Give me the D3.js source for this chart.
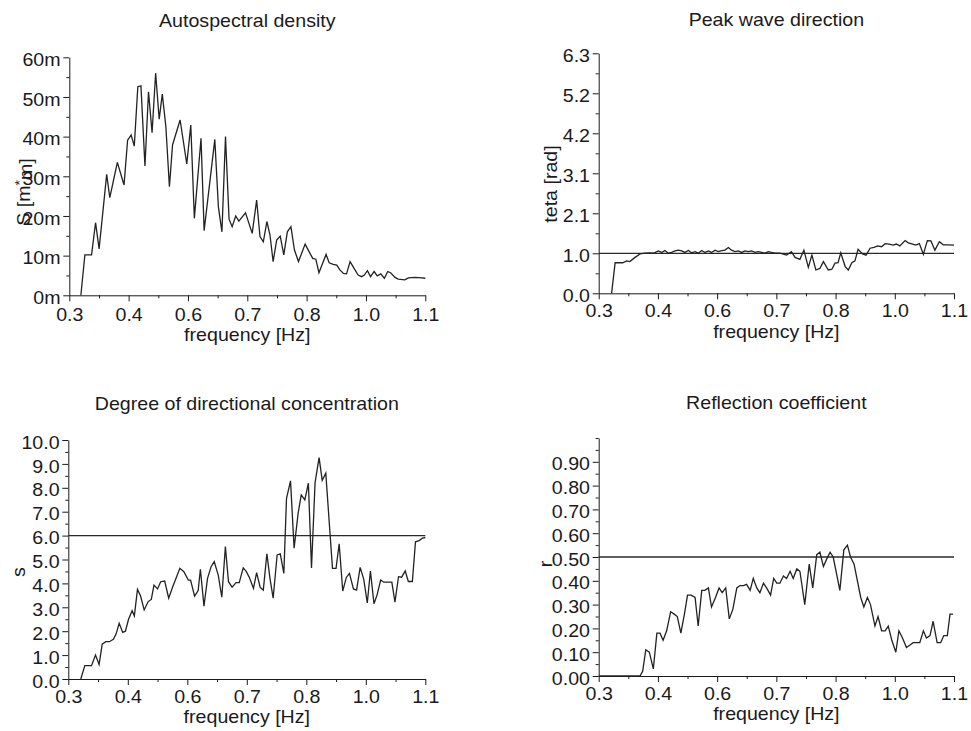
<!DOCTYPE html>
<html><head><meta charset="utf-8">
<script src="https://cdn.jsdelivr.net/npm/d3@7"></script>
<style>
html,body{margin:0;padding:0;background:#fff;}
svg text{font-family:"Liberation Sans",Arial,Helvetica,sans-serif;fill:#1a1a1a;}
</style></head>
<body><svg id="c" width="971" height="731"></svg>
<script>
// ---------- data ----------
const xTickValues = [0.3, 0.43333, 0.56667, 0.7, 0.83333, 0.96667, 1.1];
const xTickLabels = ["0.3", "0.4", "0.6", "0.7", "0.8", "1.0", "1.1"];
const xMinorValues = [0.36667, 0.5, 0.63333, 0.76667, 0.9, 1.03333];

// Autospectral density, S [m*m] in milli units
const spectrumFreq = [0.326,0.335,0.350,0.359,0.367,0.384,0.391,0.408,0.423,0.431,0.439,0.446,0.454,0.461,0.470,0.478,0.486,0.494,0.502,0.509,0.517,0.525,0.532,0.549,0.564,0.573,0.581,0.596,0.603,0.627,0.635,0.643,0.651,0.659,0.666,0.674,0.681,0.696,0.711,0.721,0.7285,0.736,0.744,0.751,0.758,0.766,0.774,0.782,0.790,0.798,0.806,0.815,0.830,0.837,0.847,0.854,0.861,0.877,0.884,0.893,0.901,0.908,0.916,0.923,0.931,0.940,0.949,0.957,0.963,0.970,0.977,0.985,0.992,1.000,1.008,1.0155,1.022,1.032,1.039,1.054,1.062,1.077,1.092,1.100];
const spectrumValues = [0,10.2,10.2,18.3,11.7,30.5,24.6,33.5,27.8,39.1,40.4,37.6,52.6,52.8,32.6,51.3,41.0,56.0,44.4,50.7,42.5,27.4,37.9,44.2,33.1,42.9,19.4,39.6,16.3,39.3,22.3,16.0,40.0,19.2,17.3,20.0,18.7,20.8,15.6,24.0,14.8,13.5,18.6,15.2,8.5,13.9,14.9,10.2,16.0,17.3,11.4,8.5,12.9,11.4,9.3,9.1,5.7,10.3,8.2,7.8,7.6,6.4,5.5,5.4,8.5,6.8,5.1,4.7,5.1,6.2,4.7,6.0,4.9,5.4,4.3,6.0,5.7,4.5,4.1,3.9,4.4,4.5,4.4,4.3];
const spectrumTickValues = [0,10,20,30,40,50,60];
const spectrumTickLabels = ["0m","10m","20m","30m","40m","50m","60m"];
const spectrumMinorValues = [5,15,25,35,45,55];

// Peak wave direction, teta [rad]
const directionFreq = [0.329,0.337,0.354,0.363,0.370,0.382,0.393,0.404,0.4155,0.4245,0.434,0.442,0.449,0.457,0.464,0.472,0.479,0.487,0.494,0.502,0.509,0.517,0.524,0.532,0.539,0.547,0.554,0.562,0.569,0.577,0.584,0.592,0.599,0.607,0.614,0.622,0.629,0.637,0.644,0.652,0.659,0.667,0.674,0.682,0.689,0.697,0.708,0.723,0.734,0.742,0.753,0.762,0.772,0.780,0.789,0.798,0.806,0.817,0.825,0.832,0.839,0.845,0.855,0.862,0.870,0.877,0.884,0.894,0.902,0.911,0.920,0.928,0.937,0.945,0.954,0.963,0.970,0.978,0.990,0.997,1.007,1.014,1.022,1.031,1.040,1.048,1.057,1.067,1.076,1.087,1.100];
const directionValues = [0,0.80,0.80,0.85,0.83,0.94,1.03,1.05,1.06,1.05,1.11,1.07,1.12,1.05,1.07,1.11,1.13,1.11,1.07,1.12,1.06,1.09,1.05,1.12,1.07,1.11,1.07,1.13,1.09,1.12,1.13,1.20,1.13,1.09,1.11,1.07,1.11,1.09,1.11,1.07,1.09,1.07,1.05,1.09,1.07,1.05,1.05,1.00,1.09,0.94,0.89,1.13,0.68,1.00,0.61,0.65,0.83,0.61,0.63,0.79,0.80,1.06,0.70,0.61,0.80,0.85,1.15,1.03,1.00,1.18,1.20,1.24,1.22,1.30,1.29,1.26,1.29,1.24,1.38,1.32,1.29,1.26,1.30,1.02,1.38,1.37,1.13,1.35,1.27,1.27,1.26];
const directionTickValues = [0, 1.0472, 2.0944, 3.1416, 4.1888, 5.2360, 6.2832];
const directionTickLabels = ["0.0","1.0","2.1","3.1","4.2","5.2","6.3"];
const directionMinorValues = [0.5236, 1.5708, 2.618, 3.6652, 4.7124, 5.7596];
const directionReference = 1.0472;

// Degree of directional concentration, s
const spreadFreq = [0.328,0.337,0.352,0.361,0.369,0.376,0.384,0.392,0.401,0.407,0.414,0.422,0.428,0.435,0.443,0.448,0.455,0.462,0.470,0.479,0.486,0.492,0.500,0.507,0.516,0.525,0.534,0.550,0.559,0.569,0.574,0.583,0.591,0.596,0.604,0.612,0.620,0.627,0.636,0.644,0.652,0.659,0.667,0.676,0.683,0.692,0.699,0.706,0.715,0.722,0.730,0.737,0.745,0.752,0.759,0.768,0.775,0.783,0.789,0.798,0.806,0.815,0.822,0.830,0.838,0.845,0.853,0.862,0.869,0.877,0.892,0.900,0.907,0.915,0.923,0.930,0.939,0.946,0.954,0.962,0.970,0.977,0.985,0.992,1.000,1.007,1.025,1.032,1.040,1.047,1.055,1.062,1.071,1.078,1.086,1.094,1.100];
const spreadValues = [0,0.56,0.56,1.0,0.61,1.46,1.56,1.56,1.66,1.88,2.33,1.95,2.0,2.5,2.86,2.64,3.75,3.47,2.89,3.24,3.33,3.93,3.77,4.07,4.10,3.38,3.86,4.63,4.49,4.14,4.14,3.47,3.70,4.59,3.05,4.21,4.70,4.91,4.35,3.42,5.54,4.07,3.84,4.03,4.03,4.65,4.49,4.24,3.79,4.45,3.83,3.72,5.24,4.20,3.38,5.19,5.24,4.42,7.56,8.29,5.47,6.93,7.70,7.49,8.19,4.65,8.22,9.26,8.31,8.61,4.63,4.63,5.66,3.68,4.25,4.42,3.77,3.72,4.67,4.18,3.18,4.52,3.15,3.52,4.14,4.05,4.05,3.22,4.28,4.26,4.52,4.08,4.08,5.74,5.79,5.90,5.92];
const spreadTickValues = [0,1,2,3,4,5,6,7,8,9,10];
const spreadTickLabels = ["0.0","1.0","2.0","3.0","4.0","5.0","6.0","7.0","8.0","9.0","10.0"];
const spreadMinorValues = [0.5,1.5,2.5,3.5,4.5,5.5,6.5,7.5,8.5,9.5];
const spreadReference = 6.0;

// Reflection coefficient, r
const reflectionFreq = [0.300,0.393,0.399,0.406,0.414,0.423,0.431,0.438,0.445,0.453,0.462,0.470,0.477,0.485,0.493,0.500,0.508,0.517,0.524,0.532,0.539,0.547,0.554,0.563,0.571,0.578,0.586,0.594,0.602,0.611,0.618,0.626,0.633,0.641,0.648,0.656,0.663,0.671,0.678,0.687,0.694,0.701,0.708,0.716,0.723,0.731,0.738,0.746,0.753,0.764,0.774,0.782,0.791,0.798,0.806,0.813,0.821,0.828,0.843,0.852,0.860,0.867,0.875,0.890,0.897,0.905,0.912,0.922,0.929,0.937,0.945,0.952,0.960,0.969,0.976,0.984,0.993,1.001,1.008,1.023,1.031,1.038,1.046,1.053,1.062,1.070,1.077,1.085,1.091,1.098];
const reflectionValues = [0,0,0.02,0.11,0.10,0.03,0.18,0.18,0.15,0.19,0.27,0.26,0.25,0.18,0.26,0.34,0.34,0.33,0.21,0.36,0.36,0.37,0.29,0.33,0.37,0.35,0.37,0.24,0.28,0.37,0.38,0.38,0.385,0.36,0.41,0.37,0.35,0.39,0.37,0.34,0.41,0.39,0.39,0.42,0.41,0.44,0.41,0.45,0.44,0.30,0.47,0.37,0.51,0.52,0.46,0.49,0.52,0.50,0.36,0.53,0.55,0.50,0.47,0.33,0.29,0.33,0.30,0.21,0.25,0.19,0.19,0.21,0.15,0.10,0.19,0.16,0.12,0.13,0.14,0.14,0.19,0.16,0.17,0.23,0.14,0.14,0.17,0.17,0.26,0.26];
const reflectionTickValues = [0,0.1,0.2,0.3,0.4,0.5,0.6,0.7,0.8,0.9];
const reflectionTickLabels = ["0.00","0.10","0.20","0.30","0.40","0.50","0.60","0.70","0.80","0.90"];
const reflectionMinorValues = [0.05,0.15,0.25,0.35,0.45,0.55,0.65,0.75,0.85,0.95,1.0];
const reflectionReference = 0.5;

// ---------- drawing ----------
const SX = 1.09, FS = 18;
const svg = d3.select("#c");

function stretchText(sel, x, y, rot) {
  sel.attr("transform", `translate(${x},${y})` + (rot ? ` rotate(${rot})` : "") + ` scale(${SX},1)`);
}

const panels = [
  { title:"Autospectral density", freq:spectrumFreq, vals:spectrumValues, ymax:60,
    ticks:spectrumTickValues, labels:spectrumTickLabels, minor:spectrumMinorValues, ref:null,
    x0:69.3, x1:425.3, yT:57.3, yB:295.3, titleY:27, xlabY:341, xpad:7.0, ylab:"S", ylx:30, yly:192 },
  { title:"Peak wave direction", freq:directionFreq, vals:directionValues, ymax:6.2832,
    ticks:directionTickValues, labels:directionTickLabels, minor:directionMinorValues, ref:directionReference,
    x0:598.7, x1:954, yT:53.3, yB:293.3, titleY:25.6, xlabY:338, xpad:4.6, ylab:"teta [rad]", ylx:557, yly:184 },
  { title:"Degree of directional concentration", freq:spreadFreq, vals:spreadValues, ymax:10,
    ticks:spreadTickValues, labels:spreadTickLabels, minor:spreadMinorValues, ref:spreadReference,
    x0:68.3, x1:425.3, yT:440, yB:679, titleY:410, xlabY:722.5, xpad:5.0, ylab:"s", ylx:25, yly:572 },
  { title:"Reflection coefficient", freq:reflectionFreq, vals:reflectionValues, ymax:1.0,
    ticks:reflectionTickValues, labels:reflectionTickLabels, minor:reflectionMinorValues, ref:reflectionReference,
    x0:598.7, x1:954, yT:438, yB:676, titleY:408.5, xlabY:719.5, xpad:5.0, ylab:"r", ylx:552, yly:564 }
];

panels.forEach(p => {
  const x = d3.scaleLinear().domain([0.3, 1.1]).range([p.x0, p.x1]);
  const y = d3.scaleLinear().domain([0, p.ymax]).range([p.yB, p.yT]);
  const g = svg.append("g");

  // minor ticks
  g.append("g").attr("transform", `translate(0,${p.yB})`)
    .call(d3.axisBottom(x).tickValues(xMinorValues).tickSize(3).tickFormat(""))
    .call(a => a.select(".domain").remove());
  g.append("g").attr("transform", `translate(${p.x0},0)`)
    .call(d3.axisLeft(y).tickValues(p.minor).tickSize(3).tickFormat(""))
    .call(a => a.select(".domain").remove());

  // major axes
  const xa = g.append("g").attr("transform", `translate(0,${p.yB})`)
    .call(d3.axisBottom(x).tickValues(xTickValues).tickSize(6).tickSizeOuter(0).tickPadding(p.xpad)
      .tickFormat((d,i) => xTickLabels[i]));
  const ya = g.append("g").attr("transform", `translate(${p.x0},0)`)
    .call(d3.axisLeft(y).tickValues(p.ticks).tickSize(6).tickSizeOuter(0).tickPadding(2)
      .tickFormat((d,i) => p.labels[i]));
  [xa, ya].forEach(a => {
    a.attr("font-family", null).attr("font-size", null);
    a.selectAll("path,line").attr("stroke", "#1a1a1a").attr("stroke-width", 1);
    a.selectAll("text").attr("font-size", FS).attr("fill", "#1a1a1a")
      .attr("transform", `scale(${SX},1)`);
  });
  ya.selectAll("text").attr("dy", "0.45em");
  g.selectAll("line").attr("stroke", "#1a1a1a");

  // reference line
  if (p.ref !== null) {
    g.append("line").attr("x1", x(0.3)).attr("x2", x(1.1))
      .attr("y1", y(p.ref)).attr("y2", y(p.ref))
      .attr("stroke", "#2a2a2a").attr("stroke-width", 1.3);
  }

  // data line
  const pts = p.freq.map((f, i) => [f, p.vals[i]]);
  g.append("path").datum(pts)
    .attr("fill", "none").attr("stroke", "#222").attr("stroke-width", 1.3)
    .attr("stroke-linejoin", "miter")
    .attr("d", d3.line().x(d => x(d[0])).y(d => y(d[1])));

  // title & axis labels
  const cx = (p.x0 + p.x1) / 2;
  stretchText(g.append("text").attr("text-anchor", "middle").attr("font-size", FS).text(p.title), cx, p.titleY);
  stretchText(g.append("text").attr("text-anchor", "middle").attr("font-size", FS).text("frequency [Hz]"), cx, p.xlabY);

  const yl = g.append("text").attr("text-anchor", "middle").attr("font-size", FS);
  if (p.ylab === "S") {
    yl.append("tspan").text("S [m");
    yl.append("tspan").attr("dy", "-0.45em").attr("font-size", 13).text("*");
    yl.append("tspan").attr("dy", "0.45em").text("m]");
  } else {
    yl.text(p.ylab);
  }
  stretchText(yl, p.ylx, p.yly, -90);
});
</script></body></html>
